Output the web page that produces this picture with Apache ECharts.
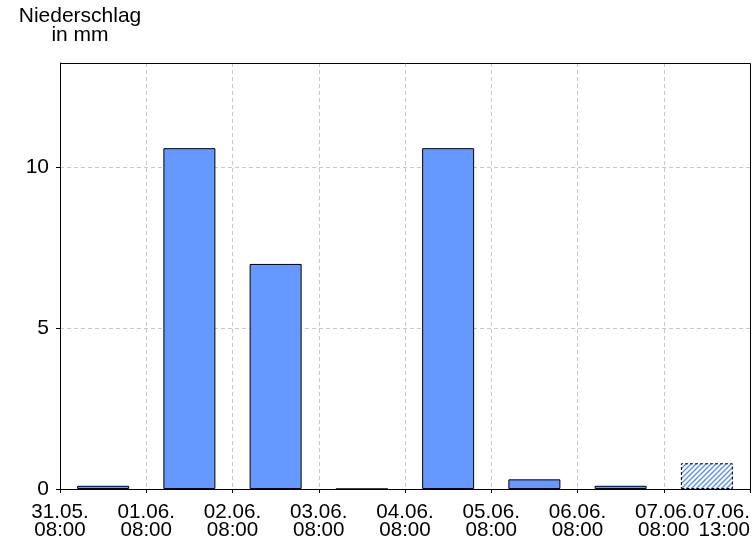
<!DOCTYPE html>
<html>
<head>
<meta charset="utf-8">
<script src="https://cdn.jsdelivr.net/npm/echarts@6/dist/echarts.min.js"></script>
<style>
html,body{margin:0;padding:0;background:#fff;}
#c{width:756px;height:546px;}
</style>
</head>
<body>
<div id="c"></div>
<script>
// Tick labels at day boundaries (x = 0..8)
var tickLabels = ["31.05.\n08:00","01.06.\n08:00","02.06.\n08:00","03.06.\n08:00","04.06.\n08:00","05.06.\n08:00","06.06.\n08:00","07.06.\n08:00","07.06.\n13:00"];
// Daily precipitation (mm), one per day interval
var dayStart = [0,1,2,3,4,5,6,7];
var precip = [0.1,10.6,7.0,0,10.6,0.3,0.1,0.8];
// last value is incomplete (partial day)
var partial = [false,false,false,false,false,false,false,true];
var yTicks = [0,5,10];

var FONT = '"Liberation Sans", Arial, sans-serif';

function makePattern(){
  var c = document.createElement('canvas');
  c.width = 5; c.height = 5;
  var g = c.getContext('2d');
  g.fillStyle = '#ffffff';
  g.fillRect(0,0,5,5);
  g.strokeStyle = '#5b8ff5';
  g.lineWidth = 1.4;
  g.beginPath();
  g.moveTo(-1,6); g.lineTo(6,-1);
  g.moveTo(-1,1); g.lineTo(1,-1);
  g.moveTo(4,6); g.lineTo(6,4);
  g.stroke();
  return c;
}
var pattern = makePattern();

var data = precip.map(function(v,i){
  var item = {value:[dayStart[i]+0.5, v]};
  if(partial[i]){
    item.itemStyle = {
      color:{image:pattern, repeat:'repeat'},
      borderColor:'#000', borderWidth:1, borderType:[3,2]
    };
  }
  return item;
});

var chart = echarts.init(document.getElementById('c'), null, {renderer:'canvas'});
chart.setOption({
  animation:false,
  backgroundColor:'#fff',
  grid:{left:60, top:63, right:6, bottom:57, show:false},
  graphic:[{
    type:'text', x:80, y:7, z:10,
    style:{text:'Niederschlag\nin mm', textAlign:'center', font:'21px '+FONT, lineHeight:19, fill:'#000'}
  },{
    type:'rect', z:100, silent:true,
    shape:{x:60.5, y:63.5, width:690, height:426},
    style:{fill:null, stroke:'#000', lineWidth:1}
  }],
  xAxis:{
    type:'value', min:0, max:8, interval:1,
    axisLine:{show:true, onZero:false, lineStyle:{color:'#000', width:1}},
    axisTick:{show:true, length:4, inside:false, lineStyle:{color:'#000'}},
    axisLabel:{
      color:'#000', fontSize:20.6, fontFamily:FONT, lineHeight:18, margin:14,
      alignMaxLabel:'right', showMaxLabel:true, showMinLabel:true, hideOverlap:false,
      formatter:function(v){ return tickLabels[Math.round(v)] || ''; }
    },
    splitLine:{show:true, showMinLine:false, showMaxLine:false, lineStyle:{color:'#c8c8c8', type:[4,3], width:1}}
  },
  yAxis:{
    type:'value', min:0, max:13.25, interval:5,
    axisLine:{show:true, lineStyle:{color:'#000', width:1}},
    axisTick:{show:true, length:4, lineStyle:{color:'#000'}},
    axisLabel:{
      color:'#000', fontSize:21, fontFamily:FONT, margin:11, showMaxLabel:false,
      formatter:function(v){ return yTicks.indexOf(v) >= 0 ? String(v) : ''; }
    },
    splitLine:{show:true, showMinLine:false, showMaxLine:false, lineStyle:{color:'#c8c8c8', type:[4,3], width:1}}
  },
  series:[{
    type:'bar',
    barWidth:52,
    data:data,
    itemStyle:{color:'#6699ff', borderColor:'#000', borderWidth:1},
    emphasis:{disabled:true}
  }]
});
</script>
</body>
</html>
